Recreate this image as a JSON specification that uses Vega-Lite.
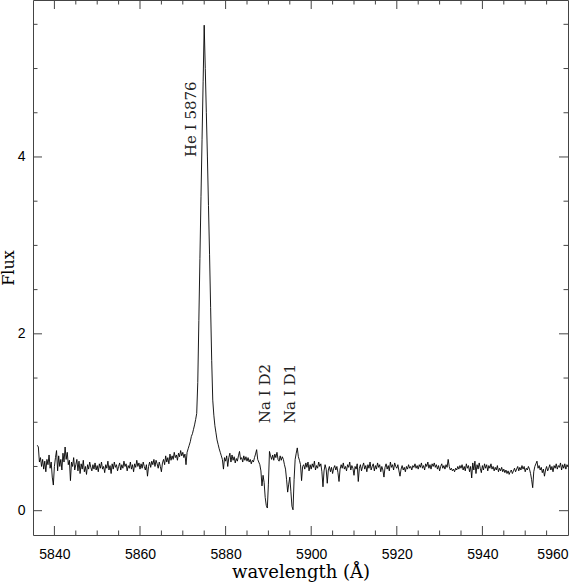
{
"$schema": "https://vega.github.io/schema/vega-lite/v6.json",
"width": 535, "height": 535,
"autosize": "none",
"padding": {"left": 33, "top": 0, "right": 16, "bottom": 47},
"background": "white",
"config": {
  "view": {"stroke": "#444", "strokeWidth": 1},
  "axis": {"grid": false, "domain": false, "ticks": false, "tickSize": 0, "labelFont": "Liberation Sans", "labelFontSize": 14, "labelColor": "#000", "titleFont": "DejaVu Serif", "titleFontWeight": "normal", "titleColor": "#000"},
  "tick": {"thickness": 1, "opacity": 1, "color": "#444"}
},
"datasets": {
"spec": [
{"w":5836.00,"f":0.74},{"w":5836.25,"f":0.72},{"w":5836.50,"f":0.55},{"w":5836.75,"f":0.60},
{"w":5837.00,"f":0.50},{"w":5837.25,"f":0.58},{"w":5837.50,"f":0.47},{"w":5837.75,"f":0.56},
{"w":5838.00,"f":0.44},{"w":5838.25,"f":0.58},{"w":5838.50,"f":0.52},{"w":5838.75,"f":0.63},
{"w":5839.00,"f":0.48},{"w":5839.25,"f":0.55},{"w":5839.50,"f":0.38},{"w":5839.75,"f":0.29},
{"w":5840.00,"f":0.50},{"w":5840.25,"f":0.60},{"w":5840.50,"f":0.68},{"w":5840.75,"f":0.45},
{"w":5841.00,"f":0.62},{"w":5841.25,"f":0.50},{"w":5841.50,"f":0.58},{"w":5841.75,"f":0.46},
{"w":5842.00,"f":0.65},{"w":5842.25,"f":0.55},{"w":5842.50,"f":0.72},{"w":5842.75,"f":0.58},
{"w":5843.00,"f":0.66},{"w":5843.25,"f":0.52},{"w":5843.50,"f":0.57},{"w":5843.75,"f":0.34},
{"w":5844.00,"f":0.55},{"w":5844.25,"f":0.50},{"w":5844.50,"f":0.60},{"w":5844.75,"f":0.46},
{"w":5845.00,"f":0.52},{"w":5845.25,"f":0.58},{"w":5845.50,"f":0.45},{"w":5845.75,"f":0.56},
{"w":5846.00,"f":0.42},{"w":5846.25,"f":0.53},{"w":5846.50,"f":0.47},{"w":5846.75,"f":0.57},
{"w":5847.00,"f":0.44},{"w":5847.25,"f":0.50},{"w":5847.50,"f":0.41},{"w":5847.75,"f":0.52},
{"w":5848.00,"f":0.47},{"w":5848.25,"f":0.55},{"w":5848.50,"f":0.49},{"w":5848.75,"f":0.45},
{"w":5849.00,"f":0.52},{"w":5849.25,"f":0.47},{"w":5849.50,"f":0.54},{"w":5849.75,"f":0.46},
{"w":5850.00,"f":0.51},{"w":5850.25,"f":0.44},{"w":5850.50,"f":0.53},{"w":5850.75,"f":0.48},
{"w":5851.00,"f":0.55},{"w":5851.25,"f":0.47},{"w":5851.50,"f":0.50},{"w":5851.75,"f":0.43},
{"w":5852.00,"f":0.52},{"w":5852.25,"f":0.48},{"w":5852.50,"f":0.56},{"w":5852.75,"f":0.46},
{"w":5853.00,"f":0.51},{"w":5853.25,"f":0.42},{"w":5853.50,"f":0.53},{"w":5853.75,"f":0.47},
{"w":5854.00,"f":0.55},{"w":5854.25,"f":0.49},{"w":5854.50,"f":0.52},{"w":5854.75,"f":0.45},
{"w":5855.00,"f":0.50},{"w":5855.25,"f":0.54},{"w":5855.50,"f":0.46},{"w":5855.75,"f":0.52},
{"w":5856.00,"f":0.48},{"w":5856.25,"f":0.56},{"w":5856.50,"f":0.50},{"w":5856.75,"f":0.53},
{"w":5857.00,"f":0.45},{"w":5857.25,"f":0.51},{"w":5857.50,"f":0.48},{"w":5857.75,"f":0.55},
{"w":5858.00,"f":0.47},{"w":5858.25,"f":0.52},{"w":5858.50,"f":0.44},{"w":5858.75,"f":0.53},
{"w":5859.00,"f":0.49},{"w":5859.25,"f":0.57},{"w":5859.50,"f":0.50},{"w":5859.75,"f":0.54},
{"w":5860.00,"f":0.47},{"w":5860.25,"f":0.53},{"w":5860.50,"f":0.48},{"w":5860.75,"f":0.55},
{"w":5861.00,"f":0.50},{"w":5861.25,"f":0.46},{"w":5861.50,"f":0.52},{"w":5861.75,"f":0.39},
{"w":5862.00,"f":0.50},{"w":5862.25,"f":0.55},{"w":5862.50,"f":0.49},{"w":5862.75,"f":0.56},
{"w":5863.00,"f":0.52},{"w":5863.25,"f":0.58},{"w":5863.50,"f":0.50},{"w":5863.75,"f":0.57},
{"w":5864.00,"f":0.53},{"w":5864.25,"f":0.48},{"w":5864.50,"f":0.55},{"w":5864.75,"f":0.50},
{"w":5865.00,"f":0.44},{"w":5865.25,"f":0.54},{"w":5865.50,"f":0.58},{"w":5865.75,"f":0.52},
{"w":5866.00,"f":0.62},{"w":5866.25,"f":0.55},{"w":5866.50,"f":0.60},{"w":5866.75,"f":0.53},
{"w":5867.00,"f":0.64},{"w":5867.25,"f":0.57},{"w":5867.50,"f":0.62},{"w":5867.75,"f":0.58},
{"w":5868.00,"f":0.66},{"w":5868.25,"f":0.60},{"w":5868.50,"f":0.63},{"w":5868.75,"f":0.57},
{"w":5869.00,"f":0.65},{"w":5869.25,"f":0.61},{"w":5869.50,"f":0.68},{"w":5869.75,"f":0.62},
{"w":5870.00,"f":0.66},{"w":5870.25,"f":0.60},{"w":5870.50,"f":0.64},{"w":5870.75,"f":0.52},
{"w":5871.00,"f":0.66},{"w":5871.25,"f":0.70},{"w":5871.50,"f":0.74},{"w":5871.75,"f":0.78},
{"w":5872.00,"f":0.84},{"w":5872.25,"f":0.87},{"w":5872.50,"f":0.92},{"w":5872.75,"f":0.97},
{"w":5873.00,"f":1.03},{"w":5873.25,"f":1.10},{"w":5873.50,"f":1.45},{"w":5873.75,"f":2.15},
{"w":5874.00,"f":2.85},{"w":5874.25,"f":3.55},{"w":5874.50,"f":4.20},{"w":5874.75,"f":4.85},
{"w":5875.00,"f":5.49},{"w":5875.25,"f":5.00},{"w":5875.50,"f":4.50},{"w":5875.75,"f":4.00},
{"w":5876.00,"f":3.45},{"w":5876.25,"f":2.90},{"w":5876.50,"f":2.30},{"w":5876.75,"f":1.70},
{"w":5877.00,"f":1.25},{"w":5877.25,"f":1.08},{"w":5877.50,"f":0.96},{"w":5877.75,"f":0.88},
{"w":5878.00,"f":0.80},{"w":5878.25,"f":0.75},{"w":5878.50,"f":0.70},{"w":5878.75,"f":0.66},
{"w":5879.00,"f":0.62},{"w":5879.25,"f":0.58},{"w":5879.50,"f":0.47},{"w":5879.75,"f":0.60},
{"w":5880.00,"f":0.56},{"w":5880.25,"f":0.62},{"w":5880.50,"f":0.50},{"w":5880.75,"f":0.60},
{"w":5881.00,"f":0.65},{"w":5881.25,"f":0.55},{"w":5881.50,"f":0.63},{"w":5881.75,"f":0.57},
{"w":5882.00,"f":0.61},{"w":5882.25,"f":0.54},{"w":5882.50,"f":0.59},{"w":5882.75,"f":0.56},
{"w":5883.00,"f":0.62},{"w":5883.25,"f":0.67},{"w":5883.50,"f":0.58},{"w":5883.75,"f":0.60},
{"w":5884.00,"f":0.55},{"w":5884.25,"f":0.62},{"w":5884.50,"f":0.57},{"w":5884.75,"f":0.61},
{"w":5885.00,"f":0.56},{"w":5885.25,"f":0.60},{"w":5885.50,"f":0.55},{"w":5885.75,"f":0.58},
{"w":5886.00,"f":0.53},{"w":5886.25,"f":0.57},{"w":5886.50,"f":0.55},{"w":5886.75,"f":0.60},
{"w":5887.00,"f":0.64},{"w":5887.25,"f":0.69},{"w":5887.50,"f":0.58},{"w":5887.75,"f":0.55},
{"w":5888.00,"f":0.52},{"w":5888.25,"f":0.45},{"w":5888.50,"f":0.28},{"w":5888.75,"f":0.40},
{"w":5889.00,"f":0.32},{"w":5889.25,"f":0.15},{"w":5889.50,"f":0.06},{"w":5889.75,"f":0.03},
{"w":5890.00,"f":0.30},{"w":5890.25,"f":0.67},{"w":5890.50,"f":0.62},{"w":5890.75,"f":0.58},
{"w":5891.00,"f":0.63},{"w":5891.25,"f":0.57},{"w":5891.50,"f":0.64},{"w":5891.75,"f":0.60},
{"w":5892.00,"f":0.66},{"w":5892.25,"f":0.58},{"w":5892.50,"f":0.56},{"w":5892.75,"f":0.62},
{"w":5893.00,"f":0.57},{"w":5893.25,"f":0.61},{"w":5893.50,"f":0.58},{"w":5893.75,"f":0.52},
{"w":5894.00,"f":0.47},{"w":5894.25,"f":0.35},{"w":5894.50,"f":0.21},{"w":5894.75,"f":0.30},
{"w":5895.00,"f":0.38},{"w":5895.25,"f":0.22},{"w":5895.50,"f":0.05},{"w":5895.75,"f":0.01},
{"w":5896.00,"f":0.35},{"w":5896.25,"f":0.58},{"w":5896.50,"f":0.65},{"w":5896.75,"f":0.71},
{"w":5897.00,"f":0.61},{"w":5897.25,"f":0.57},{"w":5897.50,"f":0.52},{"w":5897.75,"f":0.34},
{"w":5898.00,"f":0.50},{"w":5898.25,"f":0.52},{"w":5898.50,"f":0.47},{"w":5898.75,"f":0.54},
{"w":5899.00,"f":0.49},{"w":5899.25,"f":0.55},{"w":5899.50,"f":0.45},{"w":5899.75,"f":0.52},
{"w":5900.00,"f":0.47},{"w":5900.25,"f":0.53},{"w":5900.50,"f":0.49},{"w":5900.75,"f":0.56},
{"w":5901.00,"f":0.46},{"w":5901.25,"f":0.51},{"w":5901.50,"f":0.48},{"w":5901.75,"f":0.55},
{"w":5902.00,"f":0.50},{"w":5902.25,"f":0.53},{"w":5902.50,"f":0.44},{"w":5902.75,"f":0.27},
{"w":5903.00,"f":0.45},{"w":5903.25,"f":0.52},{"w":5903.50,"f":0.47},{"w":5903.75,"f":0.31},
{"w":5904.00,"f":0.46},{"w":5904.25,"f":0.50},{"w":5904.50,"f":0.44},{"w":5904.75,"f":0.49},
{"w":5905.00,"f":0.42},{"w":5905.25,"f":0.48},{"w":5905.50,"f":0.51},{"w":5905.75,"f":0.46},
{"w":5906.00,"f":0.50},{"w":5906.25,"f":0.43},{"w":5906.50,"f":0.33},{"w":5906.75,"f":0.47},
{"w":5907.00,"f":0.52},{"w":5907.25,"f":0.48},{"w":5907.50,"f":0.54},{"w":5907.75,"f":0.47},
{"w":5908.00,"f":0.50},{"w":5908.25,"f":0.45},{"w":5908.50,"f":0.52},{"w":5908.75,"f":0.49},
{"w":5909.00,"f":0.55},{"w":5909.25,"f":0.46},{"w":5909.50,"f":0.51},{"w":5909.75,"f":0.48},
{"w":5910.00,"f":0.40},{"w":5910.25,"f":0.50},{"w":5910.50,"f":0.47},{"w":5910.75,"f":0.53},
{"w":5911.00,"f":0.33},{"w":5911.25,"f":0.48},{"w":5911.50,"f":0.52},{"w":5911.75,"f":0.45},
{"w":5912.00,"f":0.50},{"w":5912.25,"f":0.54},{"w":5912.50,"f":0.47},{"w":5912.75,"f":0.51},
{"w":5913.00,"f":0.44},{"w":5913.25,"f":0.52},{"w":5913.50,"f":0.48},{"w":5913.75,"f":0.55},
{"w":5914.00,"f":0.46},{"w":5914.25,"f":0.50},{"w":5914.50,"f":0.53},{"w":5914.75,"f":0.45},
{"w":5915.00,"f":0.51},{"w":5915.25,"f":0.47},{"w":5915.50,"f":0.54},{"w":5915.75,"f":0.49},
{"w":5916.00,"f":0.52},{"w":5916.25,"f":0.44},{"w":5916.50,"f":0.50},{"w":5916.75,"f":0.46},
{"w":5917.00,"f":0.38},{"w":5917.25,"f":0.49},{"w":5917.50,"f":0.53},{"w":5917.75,"f":0.47},
{"w":5918.00,"f":0.51},{"w":5918.25,"f":0.45},{"w":5918.50,"f":0.55},{"w":5918.75,"f":0.49},
{"w":5919.00,"f":0.52},{"w":5919.25,"f":0.46},{"w":5919.50,"f":0.54},{"w":5919.75,"f":0.50},
{"w":5920.00,"f":0.48},{"w":5920.25,"f":0.52},{"w":5920.50,"f":0.45},{"w":5920.75,"f":0.39},
{"w":5921.00,"f":0.47},{"w":5921.25,"f":0.51},{"w":5921.50,"f":0.46},{"w":5921.75,"f":0.49},
{"w":5922.00,"f":0.44},{"w":5922.25,"f":0.50},{"w":5922.50,"f":0.47},{"w":5922.75,"f":0.52},
{"w":5923.00,"f":0.48},{"w":5923.25,"f":0.50},{"w":5923.50,"f":0.46},{"w":5923.75,"f":0.51},
{"w":5924.00,"f":0.49},{"w":5924.25,"f":0.53},{"w":5924.50,"f":0.48},{"w":5924.75,"f":0.51},
{"w":5925.00,"f":0.47},{"w":5925.25,"f":0.52},{"w":5925.50,"f":0.49},{"w":5925.75,"f":0.54},
{"w":5926.00,"f":0.48},{"w":5926.25,"f":0.51},{"w":5926.50,"f":0.46},{"w":5926.75,"f":0.53},
{"w":5927.00,"f":0.50},{"w":5927.25,"f":0.55},{"w":5927.50,"f":0.48},{"w":5927.75,"f":0.52},
{"w":5928.00,"f":0.47},{"w":5928.25,"f":0.53},{"w":5928.50,"f":0.50},{"w":5928.75,"f":0.54},
{"w":5929.00,"f":0.49},{"w":5929.25,"f":0.52},{"w":5929.50,"f":0.47},{"w":5929.75,"f":0.51},
{"w":5930.00,"f":0.45},{"w":5930.25,"f":0.50},{"w":5930.50,"f":0.53},{"w":5930.75,"f":0.48},
{"w":5931.00,"f":0.51},{"w":5931.25,"f":0.47},{"w":5931.50,"f":0.52},{"w":5931.75,"f":0.49},
{"w":5932.00,"f":0.58},{"w":5932.25,"f":0.50},{"w":5932.50,"f":0.46},{"w":5932.75,"f":0.48},
{"w":5933.00,"f":0.45},{"w":5933.25,"f":0.47},{"w":5933.50,"f":0.44},{"w":5933.75,"f":0.48},
{"w":5934.00,"f":0.46},{"w":5934.25,"f":0.50},{"w":5934.50,"f":0.47},{"w":5934.75,"f":0.51},
{"w":5935.00,"f":0.48},{"w":5935.25,"f":0.52},{"w":5935.50,"f":0.46},{"w":5935.75,"f":0.50},
{"w":5936.00,"f":0.45},{"w":5936.25,"f":0.53},{"w":5936.50,"f":0.48},{"w":5936.75,"f":0.51},
{"w":5937.00,"f":0.44},{"w":5937.25,"f":0.50},{"w":5937.50,"f":0.37},{"w":5937.75,"f":0.54},
{"w":5938.00,"f":0.46},{"w":5938.25,"f":0.56},{"w":5938.50,"f":0.42},{"w":5938.75,"f":0.52},
{"w":5939.00,"f":0.47},{"w":5939.25,"f":0.54},{"w":5939.50,"f":0.48},{"w":5939.75,"f":0.43},
{"w":5940.00,"f":0.51},{"w":5940.25,"f":0.46},{"w":5940.50,"f":0.53},{"w":5940.75,"f":0.48},
{"w":5941.00,"f":0.52},{"w":5941.25,"f":0.45},{"w":5941.50,"f":0.51},{"w":5941.75,"f":0.48},
{"w":5942.00,"f":0.53},{"w":5942.25,"f":0.47},{"w":5942.50,"f":0.50},{"w":5942.75,"f":0.45},
{"w":5943.00,"f":0.49},{"w":5943.25,"f":0.46},{"w":5943.50,"f":0.51},{"w":5943.75,"f":0.44},
{"w":5944.00,"f":0.48},{"w":5944.25,"f":0.45},{"w":5944.50,"f":0.49},{"w":5944.75,"f":0.44},
{"w":5945.00,"f":0.47},{"w":5945.25,"f":0.43},{"w":5945.50,"f":0.46},{"w":5945.75,"f":0.42},
{"w":5946.00,"f":0.45},{"w":5946.25,"f":0.41},{"w":5946.50,"f":0.44},{"w":5946.75,"f":0.46},
{"w":5947.00,"f":0.42},{"w":5947.25,"f":0.45},{"w":5947.50,"f":0.48},{"w":5947.75,"f":0.44},
{"w":5948.00,"f":0.47},{"w":5948.25,"f":0.50},{"w":5948.50,"f":0.45},{"w":5948.75,"f":0.49},
{"w":5949.00,"f":0.46},{"w":5949.25,"f":0.51},{"w":5949.50,"f":0.47},{"w":5949.75,"f":0.50},
{"w":5950.00,"f":0.44},{"w":5950.25,"f":0.48},{"w":5950.50,"f":0.46},{"w":5950.75,"f":0.50},
{"w":5951.00,"f":0.47},{"w":5951.25,"f":0.42},{"w":5951.50,"f":0.35},{"w":5951.75,"f":0.26},
{"w":5952.00,"f":0.44},{"w":5952.25,"f":0.50},{"w":5952.50,"f":0.53},{"w":5952.75,"f":0.56},
{"w":5953.00,"f":0.48},{"w":5953.25,"f":0.51},{"w":5953.50,"f":0.46},{"w":5953.75,"f":0.49},
{"w":5954.00,"f":0.43},{"w":5954.25,"f":0.47},{"w":5954.50,"f":0.39},{"w":5954.75,"f":0.46},
{"w":5955.00,"f":0.50},{"w":5955.25,"f":0.45},{"w":5955.50,"f":0.48},{"w":5955.75,"f":0.52},
{"w":5956.00,"f":0.46},{"w":5956.25,"f":0.50},{"w":5956.50,"f":0.44},{"w":5956.75,"f":0.51},
{"w":5957.00,"f":0.48},{"w":5957.25,"f":0.53},{"w":5957.50,"f":0.47},{"w":5957.75,"f":0.51},
{"w":5958.00,"f":0.49},{"w":5958.25,"f":0.54},{"w":5958.50,"f":0.46},{"w":5958.75,"f":0.52},
{"w":5959.00,"f":0.48},{"w":5959.25,"f":0.53},{"w":5959.50,"f":0.47},{"w":5959.75,"f":0.52},
{"w":5960.00,"f":0.50}
],
"notes": [
{"w":5871.9,"f":4.0,"label":"He I 5876"},
{"w":5889.1,"f":0.99,"label":"Na I D2"},
{"w":5895.0,"f":0.99,"label":"Na I D1"}
],
"xmajor": [{"v":5840},{"v":5860},{"v":5880},{"v":5900},{"v":5920},{"v":5940}],
"xminor": [{"v":5845},{"v":5850},{"v":5855},{"v":5865},{"v":5870},{"v":5875},{"v":5885},{"v":5890},{"v":5895},{"v":5905},{"v":5910},{"v":5915},{"v":5925},{"v":5930},{"v":5935},{"v":5945},{"v":5950},{"v":5955}],
"ymajor": [{"v":0},{"v":2},{"v":4}],
"yminor": [{"v":0.5},{"v":1},{"v":1.5},{"v":2.5},{"v":3},{"v":3.5},{"v":4.5},{"v":5},{"v":5.5}]
},
"layer": [
{
  "data": {"name": "spec"},
  "mark": {"type": "line", "color": "#000", "strokeWidth": 0.9},
  "encoding": {
    "x": {"field": "w", "type": "quantitative", "scale": {"domain": [5835, 5960], "nice": false, "zero": false},
          "axis": {"orient": "bottom", "values": [5840,5860,5880,5900,5920,5940,5960], "format": "d", "labelPadding": 12, "title": "wavelength (Å)", "titleFontSize": 18, "titlePadding": 2}},
    "y": {"field": "f", "type": "quantitative", "scale": {"domain": [-0.275, 5.775], "nice": false, "zero": false},
          "axis": {"orient": "left", "values": [0,2,4], "format": "d", "labelPadding": 8, "title": "Flux", "titleFontSize": 16, "titlePadding": 1}}
  }
},
{
  "data": {"name": "notes"},
  "mark": {"type": "text", "angle": 270, "align": "left", "baseline": "middle", "font": "DejaVu Serif", "fontSize": 15, "color": "#222"},
  "encoding": {
    "x": {"field": "w", "type": "quantitative", "scale": {"domain": [5835, 5960], "nice": false, "zero": false},
          "axis": {"orient": "bottom", "values": [5840,5860,5880,5900,5920,5940,5960], "format": "d", "labelPadding": 12, "title": "wavelength (Å)", "titleFontSize": 18, "titlePadding": 2}},
    "y": {"field": "f", "type": "quantitative", "scale": {"domain": [-0.275, 5.775], "nice": false, "zero": false},
          "axis": {"orient": "left", "values": [0,2,4], "format": "d", "labelPadding": 8, "title": "Flux", "titleFontSize": 16, "titlePadding": 1}},
    "text": {"field": "label"}
  }
},
{
  "data": {"name": "xmajor"},
  "mark": {"type": "tick", "orient": "vertical", "size": 18, "clip": true},
  "encoding": {
    "x": {"field": "v", "type": "quantitative", "scale": {"domain": [5835, 5960], "nice": false, "zero": false},
          "axis": {"orient": "bottom", "values": [5840,5860,5880,5900,5920,5940,5960], "format": "d", "labelPadding": 12, "title": "wavelength (Å)", "titleFontSize": 18, "titlePadding": 2}},
    "y": {"datum": -0.275, "type": "quantitative", "scale": {"domain": [-0.275, 5.775], "nice": false, "zero": false},
          "axis": {"orient": "left", "values": [0,2,4], "format": "d", "labelPadding": 8, "title": "Flux", "titleFontSize": 16, "titlePadding": 1}}
  }
},
{
  "data": {"name": "xmajor"},
  "mark": {"type": "tick", "orient": "vertical", "size": 18, "clip": true},
  "encoding": {
    "x": {"field": "v", "type": "quantitative", "scale": {"domain": [5835, 5960], "nice": false, "zero": false},
          "axis": {"orient": "bottom", "values": [5840,5860,5880,5900,5920,5940,5960], "format": "d", "labelPadding": 12, "title": "wavelength (Å)", "titleFontSize": 18, "titlePadding": 2}},
    "y": {"datum": 5.775, "type": "quantitative", "scale": {"domain": [-0.275, 5.775], "nice": false, "zero": false},
          "axis": {"orient": "left", "values": [0,2,4], "format": "d", "labelPadding": 8, "title": "Flux", "titleFontSize": 16, "titlePadding": 1}}
  }
},
{
  "data": {"name": "xminor"},
  "mark": {"type": "tick", "orient": "vertical", "size": 9, "clip": true},
  "encoding": {
    "x": {"field": "v", "type": "quantitative", "scale": {"domain": [5835, 5960], "nice": false, "zero": false},
          "axis": {"orient": "bottom", "values": [5840,5860,5880,5900,5920,5940,5960], "format": "d", "labelPadding": 12, "title": "wavelength (Å)", "titleFontSize": 18, "titlePadding": 2}},
    "y": {"datum": -0.275, "type": "quantitative", "scale": {"domain": [-0.275, 5.775], "nice": false, "zero": false},
          "axis": {"orient": "left", "values": [0,2,4], "format": "d", "labelPadding": 8, "title": "Flux", "titleFontSize": 16, "titlePadding": 1}}
  }
},
{
  "data": {"name": "xminor"},
  "mark": {"type": "tick", "orient": "vertical", "size": 9, "clip": true},
  "encoding": {
    "x": {"field": "v", "type": "quantitative", "scale": {"domain": [5835, 5960], "nice": false, "zero": false},
          "axis": {"orient": "bottom", "values": [5840,5860,5880,5900,5920,5940,5960], "format": "d", "labelPadding": 12, "title": "wavelength (Å)", "titleFontSize": 18, "titlePadding": 2}},
    "y": {"datum": 5.775, "type": "quantitative", "scale": {"domain": [-0.275, 5.775], "nice": false, "zero": false},
          "axis": {"orient": "left", "values": [0,2,4], "format": "d", "labelPadding": 8, "title": "Flux", "titleFontSize": 16, "titlePadding": 1}}
  }
},
{
  "data": {"name": "ymajor"},
  "mark": {"type": "tick", "orient": "horizontal", "size": 18, "clip": true},
  "encoding": {
    "y": {"field": "v", "type": "quantitative", "scale": {"domain": [-0.275, 5.775], "nice": false, "zero": false},
          "axis": {"orient": "left", "values": [0,2,4], "format": "d", "labelPadding": 8, "title": "Flux", "titleFontSize": 16, "titlePadding": 1}},
    "x": {"datum": 5835, "type": "quantitative", "scale": {"domain": [5835, 5960], "nice": false, "zero": false},
          "axis": {"orient": "bottom", "values": [5840,5860,5880,5900,5920,5940,5960], "format": "d", "labelPadding": 12, "title": "wavelength (Å)", "titleFontSize": 18, "titlePadding": 2}}
  }
},
{
  "data": {"name": "ymajor"},
  "mark": {"type": "tick", "orient": "horizontal", "size": 18, "clip": true},
  "encoding": {
    "y": {"field": "v", "type": "quantitative", "scale": {"domain": [-0.275, 5.775], "nice": false, "zero": false},
          "axis": {"orient": "left", "values": [0,2,4], "format": "d", "labelPadding": 8, "title": "Flux", "titleFontSize": 16, "titlePadding": 1}},
    "x": {"datum": 5960, "type": "quantitative", "scale": {"domain": [5835, 5960], "nice": false, "zero": false},
          "axis": {"orient": "bottom", "values": [5840,5860,5880,5900,5920,5940,5960], "format": "d", "labelPadding": 12, "title": "wavelength (Å)", "titleFontSize": 18, "titlePadding": 2}}
  }
},
{
  "data": {"name": "yminor"},
  "mark": {"type": "tick", "orient": "horizontal", "size": 9, "clip": true},
  "encoding": {
    "y": {"field": "v", "type": "quantitative", "scale": {"domain": [-0.275, 5.775], "nice": false, "zero": false},
          "axis": {"orient": "left", "values": [0,2,4], "format": "d", "labelPadding": 8, "title": "Flux", "titleFontSize": 16, "titlePadding": 1}},
    "x": {"datum": 5835, "type": "quantitative", "scale": {"domain": [5835, 5960], "nice": false, "zero": false},
          "axis": {"orient": "bottom", "values": [5840,5860,5880,5900,5920,5940,5960], "format": "d", "labelPadding": 12, "title": "wavelength (Å)", "titleFontSize": 18, "titlePadding": 2}}
  }
},
{
  "data": {"name": "yminor"},
  "mark": {"type": "tick", "orient": "horizontal", "size": 9, "clip": true},
  "encoding": {
    "y": {"field": "v", "type": "quantitative", "scale": {"domain": [-0.275, 5.775], "nice": false, "zero": false},
          "axis": {"orient": "left", "values": [0,2,4], "format": "d", "labelPadding": 8, "title": "Flux", "titleFontSize": 16, "titlePadding": 1}},
    "x": {"datum": 5960, "type": "quantitative", "scale": {"domain": [5835, 5960], "nice": false, "zero": false},
          "axis": {"orient": "bottom", "values": [5840,5860,5880,5900,5920,5940,5960], "format": "d", "labelPadding": 12, "title": "wavelength (Å)", "titleFontSize": 18, "titlePadding": 2}}
  }
}
]
}
